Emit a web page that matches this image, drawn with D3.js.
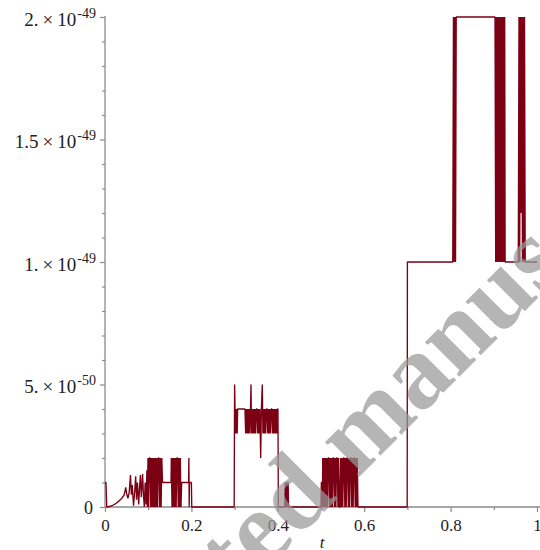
<!DOCTYPE html>
<html>
<head>
<meta charset="utf-8">
<script src="https://cdn.jsdelivr.net/npm/d3@7/dist/d3.min.js"></script>
<style>
  html, body { margin: 0; padding: 0; background: #fff; }
  svg { display: block; }
</style>
</head>
<body>
<script>
// Absolute error of the numerical solution against t (values in units of 1e-50).
const UNIT = 1e-50;

// start-up transient, t in [0, 0.1)
const warmT = [0, 0.0023, 0.004, 0.010, 0.018, 0.026, 0.034, 0.040, 0.044,
  0.046, 0.048, 0.050, 0.053, 0.056, 0.059, 0.061, 0.063, 0.066, 0.069, 0.071, 0.073,
  0.075, 0.078, 0.080, 0.082, 0.084, 0.087, 0.089, 0.091, 0.093, 0.095, 0.097, 0.098];
const warmE = [1, 1, 0, 0.02, 0.07, 0.15, 0.27, 0.38, 0.48,
  0.62, 0.8, 0.55, 0.35, 0.6, 1.3, 0.5, 0.9, 0.05, 0.7, 1.25, 0.3,
  1.0, 0.1, 0.8, 1.3, 0.4, 1.35, 0.5, 0.0, 1.0, 0.1, 1.5, 0.0];

// first burst, t in [0.1, 0.2]
const burst1T = [0.0995, 0.1011, 0.1027, 0.1043, 0.1059, 0.1075, 0.1091, 0.1107, 0.1123, 0.1139,
  0.1155, 0.1171, 0.1187, 0.1203, 0.1219, 0.1235, 0.1251, 0.1267, 0.1283, 0.1299, 0.1315, 0.1331,
  0.1528,
  0.1535, 0.1551, 0.1567, 0.1583, 0.1599, 0.1615, 0.1631, 0.1647, 0.1663, 0.1679, 0.1695, 0.1711,
  0.1727, 0.1743, 0.1759, 0.1775,
  0.1935, 0.1942, 0.1949, 0.1956, 0.2000, 0.2008];
const burst1E = [2, 0, 2, 2, 0, 2, 0, 2, 0, 2,
  0, 2, 0, 2, 0, 2, 2, 0, 2, 0, 2, 1,
  1,
  2, 0, 2, 0, 2, 0, 2, 0, 2, 2, 0, 2,
  0, 2, 0, 1,
  1, 2, 0, 1, 1, 0];

// second burst, t in [0.3, 0.4]
const burst2T = [0.2990, 0.3000, 0.3010, 0.3020, 0.3030, 0.3040, 0.3050, 0.3060, 0.3070,
  0.3240, 0.3256, 0.3272, 0.3288, 0.3304, 0.3320, 0.3336, 0.3352, 0.3368,
  0.3380, 0.3392, 0.3408, 0.3424, 0.3440, 0.3456, 0.3472, 0.3488, 0.3504,
  0.3520, 0.3536, 0.3552, 0.3568, 0.3584,
  0.3604, 0.3620, 0.3641,
  0.3656, 0.3672, 0.3688, 0.3704, 0.3720, 0.3736,
  0.3752, 0.3768, 0.3784, 0.3800, 0.3816, 0.3832, 0.3848,
  0.3864, 0.3880, 0.3896, 0.3912, 0.3928, 0.3944, 0.3960, 0.3976, 0.3992,
  0.4004, 0.4012];
const burst2E = [0, 5, 4, 3, 4, 3, 4, 3, 4,
  4, 3, 4, 3, 4, 3, 4, 3, 4,
  5, 3, 4, 3, 4, 3, 4, 3, 4,
  4, 3, 4, 3, 4,
  2, 4, 5,
  3, 4, 3, 4, 3, 4,
  4, 3, 4, 3, 4, 3, 4,
  4, 3, 4, 3, 4, 3, 4, 3, 4,
  4, 0];

// isolated blip near t = 0.42
const blipT = [0.4160, 0.4170, 0.4180, 0.4190, 0.4200, 0.4210, 0.4220, 0.4230, 0.4240, 0.4248];
const blipE = [0, 1, 0, 1, 0, 1, 0, 1, 1, 0];

// third burst, t in [0.5, 0.59]
const burst3T = [0.5000, 0.5008, 0.5024, 0.5032,
  0.5040, 0.5056, 0.5072, 0.5088, 0.5104, 0.5120, 0.5136, 0.5152, 0.5168, 0.5184,
  0.5200, 0.5216, 0.5232, 0.5248, 0.5264, 0.5280, 0.5296,
  0.5312, 0.5328, 0.5344, 0.5360, 0.5376,
  0.5392, 0.5408, 0.5424, 0.5440,
  0.5456, 0.5472, 0.5488, 0.5504, 0.5520, 0.5536,
  0.5552, 0.5568, 0.5584, 0.5600, 0.5616,
  0.5632, 0.5648, 0.5664, 0.5680, 0.5696,
  0.5712, 0.5728, 0.5744, 0.5760, 0.5776,
  0.5792, 0.5808, 0.5824, 0.5840, 0.5856];
const burst3E = [0, 1, 1, 0,
  2, 0, 2, 0, 2, 0, 2, 0, 2, 2,
  0, 2, 0, 2, 0, 2, 2,
  0, 2, 0, 2, 2,
  0, 2, 0, 0,
  2, 0, 2, 0, 2, 2,
  0, 2, 0, 2, 2,
  0, 2, 0, 2, 2,
  0, 2, 0, 2, 2,
  0, 2, 0, 2, 0];

// late regime, t in [0.7, 1]
const lateT = [0.6995, 0.7000,
  0.8050, 0.8066, 0.8082, 0.8098, 0.8114, 0.8130, 0.8140,
  0.9028, 0.9044, 0.9060, 0.9076, 0.9092, 0.9108, 0.9124, 0.9140, 0.9156, 0.9172,
  0.9188, 0.9204, 0.9220, 0.9236, 0.9252, 0.9262,
  0.9567, 0.9583, 0.9599, 0.9615, 0.9631, 0.9647, 0.9663, 0.9679, 0.9695, 0.9711, 0.9727,
  1.0000];
const lateE = [0, 10,
  10, 20, 10, 20, 10, 20, 20,
  20, 10, 20, 10, 20, 10, 20, 10, 20, 10,
  20, 10, 20, 10, 20, 10,
  10, 20, 10, 20, 12, 20, 10, 20, 10, 20, 10,
  10];

// axes
const xMajorTicks = [0, 0.2, 0.4, 0.6, 0.8, 1];
const xMinorTicks = [0.1, 0.3, 0.5, 0.7, 0.9];
const yMajorTicks = [0, 5e-50, 1e-49, 1.5e-49, 2e-49];
const yMinorTicks = [1e-50, 2e-50, 3e-50, 4e-50, 6e-50, 7e-50, 8e-50, 9e-50,
  1.1e-49, 1.2e-49, 1.3e-49, 1.4e-49, 1.6e-49, 1.7e-49, 1.8e-49, 1.9e-49];
const yTickMantissa = ["0", "5.", "1.", "1.5", "2."];
const yTickExponent = ["", "-50", "-49", "-49", "-49"];
const xTitle = "t";
const watermarkText = "Accepted manuscript";

const W = 540, H = 550;
const lineColor = "#7b0014";
const axisColor = "#8a8a8a";
const textColor = "#222";
const serif = "Liberation Serif, Times New Roman, Times, serif";

const svg = d3.select("body").append("svg")
  .attr("width", W).attr("height", H)
  .attr("viewBox", `0 0 ${W} ${H}`);

svg.append("rect").attr("width", W).attr("height", H).attr("fill", "#fff");

const x = d3.scaleLinear().domain([0, 1]).range([105, 537]);
const y = d3.scaleLinear().domain([0, 2e-49]).range([507, 17]);

// assemble the series
const segments = [[warmT, warmE], [burst1T, burst1E], [burst2T, burst2E],
  [blipT, blipE], [burst3T, burst3E], [lateT, lateE]];
const series = [];
segments.forEach(([ts, es]) => {
  ts.forEach((t, i) => series.push({ t, e: es[i] * UNIT }));
});

// axis lines
svg.append("line")
  .attr("x1", x(0)).attr("x2", W).attr("y1", y(0)).attr("y2", y(0))
  .attr("stroke", axisColor).attr("stroke-width", 1.3);
svg.append("line")
  .attr("x1", x(0)).attr("x2", x(0)).attr("y1", y(0)).attr("y2", y(2e-49) - 1)
  .attr("stroke", axisColor).attr("stroke-width", 1.3);

// x ticks
const xAxisMajor = d3.axisBottom(x).tickValues(xMajorTicks).tickSize(5).tickPadding(7)
  .tickFormat(d3.format("~g"));
const gx = svg.append("g").attr("transform", `translate(0,${y(0)})`).call(xAxisMajor);
gx.select(".domain").remove();
gx.selectAll(".tick line").attr("stroke", axisColor).attr("stroke-width", 1.2);
gx.selectAll(".tick text").attr("fill", textColor)
  .style("font-family", serif).style("font-size", "17px");

const gxMinor = svg.append("g").attr("transform", `translate(0,${y(0)})`)
  .call(d3.axisBottom(x).tickValues(xMinorTicks).tickSize(3).tickFormat(""));
gxMinor.select(".domain").remove();
gxMinor.selectAll(".tick line").attr("stroke", axisColor).attr("stroke-width", 1.2);

// y ticks
const gy = svg.append("g").attr("transform", `translate(${x(0)},0)`)
  .call(d3.axisLeft(y).tickValues(yMajorTicks).tickSize(5).tickFormat(""));
gy.select(".domain").remove();
gy.selectAll(".tick line").attr("stroke", axisColor).attr("stroke-width", 1.2);

const gyMinor = svg.append("g").attr("transform", `translate(${x(0)},0)`)
  .call(d3.axisLeft(y).tickValues(yMinorTicks).tickSize(3).tickFormat(""));
gyMinor.select(".domain").remove();
gyMinor.selectAll(".tick line").attr("stroke", axisColor).attr("stroke-width", 1.2);

// y tick labels in Maple's "m. × 10^e" style
const yLabels = svg.append("g")
  .style("font-family", serif).attr("fill", textColor);
yMajorTicks.forEach((v, i) => {
  const t = yLabels.append("text")
    .attr("text-anchor", "end")
    .attr("x", yTickExponent[i] ? 96 : 93)
    .attr("y", y(v) + (yTickExponent[i] ? 8.5 : 6.5))
    .style("font-size", "19px");
  if (yTickExponent[i]) {
    t.append("tspan").text(yTickMantissa[i]);
    t.append("tspan").attr("dx", 4).text("\u00d7");
    t.append("tspan").attr("dx", 4).text("10");
    t.append("tspan").attr("dy", -8).attr("dx", 1).style("font-size", "14px").text(yTickExponent[i]);
  } else {
    t.style("font-size", "18px").text(yTickMantissa[i]);
  }
});

// axis title
svg.append("text")
  .attr("x", 322).attr("y", 548)
  .attr("text-anchor", "middle")
  .style("font-family", serif).style("font-style", "italic").style("font-size", "17px")
  .attr("fill", textColor)
  .text(xTitle);

// error curve
const line = d3.line().x(d => x(d.t)).y(d => y(d.e));
svg.append("path")
  .datum(series)
  .attr("d", line)
  .attr("fill", "none")
  .attr("stroke", lineColor)
  .attr("stroke-width", 1.35)
  .attr("stroke-linejoin", "bevel");

// diagonal watermark
svg.append("text")
  .attr("transform", "translate(43,793) rotate(-45)")
  .style("font-family", serif).style("font-weight", "bold").style("font-size", "106px")
  .attr("fill", "#999")
  .attr("opacity", 0.72)
  .text(watermarkText);
</script>
</body>
</html>
